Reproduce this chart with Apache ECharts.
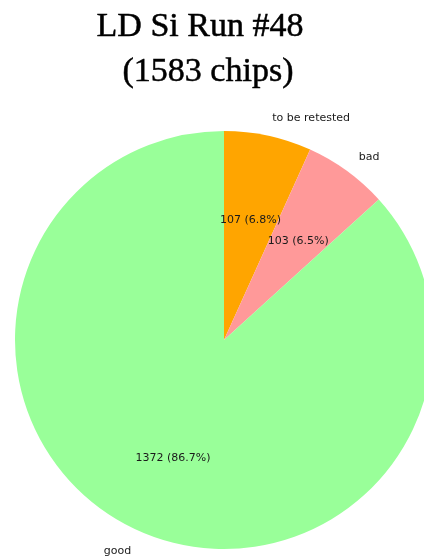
<!DOCTYPE html>
<html>
<head>
<meta charset="utf-8">
<script src="https://cdn.jsdelivr.net/npm/echarts@6/dist/echarts.min.js"></script>
<style>
html,body{margin:0;padding:0;background:#fff;}
#chart{width:424px;height:559px;}
</style>
</head>
<body>
<div id="chart"></div>
<script>
const titleLines = ['LD Si Run #48', '(1583 chips)'];
const categories = ['to be retested', 'bad', 'good'];
const counts = [107, 103, 1372];
const sliceColors = ['#ffa500', '#ff9999', '#99ff99'];

const total = counts.reduce((a, b) => a + b, 0);
const chart = echarts.init(document.getElementById('chart'), null, {renderer: 'canvas'});

const sliceData = categories.map((c, i) => ({name: c, value: counts[i], itemStyle: {color: sliceColors[i]}}));
const labelData = categories.map((c, i) => ({name: c, value: counts[i]}));

const titleStyle = {fontFamily: 'Liberation Serif', fontSize: 34, fontWeight: 'normal',
  color: '#000', textBorderColor: '#000', textBorderWidth: 0.5};
const labelFont = {fontFamily: 'DejaVu Sans', fontSize: 11, color: '#1a1a1a'};
const pieCommon = {type: 'pie', startAngle: 90, clockwise: true, avoidLabelOverlap: false, silent: true};

chart.setOption({
  animation: false,
  title: [
    {text: titleLines[0], left: 195, top: 5, textAlign: 'center', textStyle: titleStyle},
    {text: titleLines[1], left: 203, top: 50, textAlign: 'center', textStyle: titleStyle}
  ],
  series: [
    Object.assign({}, pieCommon, {
      center: [224, 340],
      radius: [0, 209],
      data: sliceData,
      itemStyle: {borderWidth: 0},
      label: {show: false},
      labelLine: {show: false}
    }),
    // category names, just outside the rim
    Object.assign({}, pieCommon, {
      center: [224, 342],
      radius: [0, 208],
      data: labelData,
      itemStyle: {color: 'rgba(0,0,0,0)', borderWidth: 0},
      label: Object.assign({show: true, position: 'outside', formatter: '{b}', distanceToLabelLine: 0}, labelFont),
      labelLine: {show: false, length: 21, length2: 0}
    }),
    // counts and percentages inside the slices
    Object.assign({}, pieCommon, {
      center: [224, 343.4],
      radius: [37, 209],
      data: labelData,
      itemStyle: {color: 'rgba(0,0,0,0)', borderWidth: 0},
      label: Object.assign({
        show: true, position: 'inside',
        formatter: p => p.value + ' (' + (p.value / total * 100).toFixed(1) + '%)'
      }, labelFont),
      labelLine: {show: false}
    })
  ]
});
</script>
</body>
</html>
